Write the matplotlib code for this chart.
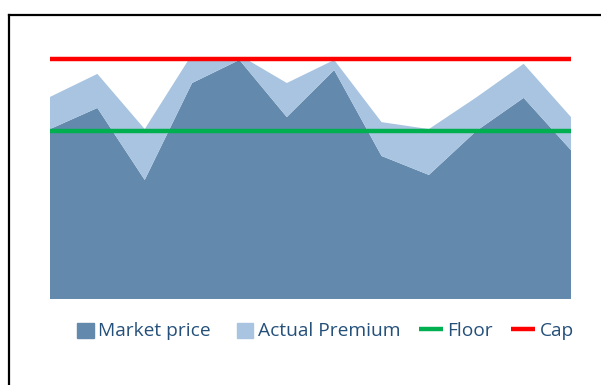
import matplotlib
matplotlib.use('Agg')
import matplotlib.pyplot as plt
from matplotlib.lines import Line2D
from matplotlib.patches import Patch, Rectangle
from matplotlib.legend_handler import HandlerPatch

# monthly series (12 points)
months = list(range(12))
market_price = [70.8, 79.6, 49.6, 90.0, 99.6, 75.8, 95.4, 59.6, 51.7, 70.0, 83.8, 62.0]
actual_premium = [13.4, 14.2, 21.2, 12.0, 2.0, 14.2, 4.2, 14.1, 19.1, 14.0, 14.2, 13.8]
floor_level = 70
cap_level = 100

c_market = '#6389ad'
c_premium = '#a9c4e0'
c_floor = '#00b050'
c_cap = '#ff0000'
c_text = '#25507a'

plt.rcParams['font.family'] = ['Open Sans', 'DejaVu Sans']

fig = plt.figure(figsize=(6.01, 3.85), dpi=100)
ax = fig.add_axes([50 / 601, 1 - 299 / 385, 521 / 601, 240 / 385])

ax.stackplot(months, market_price, actual_premium,
             colors=[c_market, c_premium], linewidth=0)
ax.plot(months, [floor_level] * len(months), color=c_floor, lw=3.2,
        solid_capstyle='butt')
ax.plot(months, [cap_level] * len(months), color=c_cap, lw=3.2,
        solid_capstyle='butt', clip_on=False)

ax.set_xlim(0, 11)
ax.set_ylim(0, 100)
ax.axis('off')

# outer frame, only top and left edges fall inside the image
fx, fy = 9 / 601, 1 - 15 / 385
fig.add_artist(Line2D([fx, 1.0], [fy, fy], color='black', lw=1.6,
                      transform=fig.transFigure))
fig.add_artist(Line2D([fx, fx], [0.0, fy], color='black', lw=1.6,
                      transform=fig.transFigure))


def square_patch(legend, orig_handle, xdescent, ydescent, width, height, fontsize):
    w = 0.85 * fontsize
    h = 0.75 * fontsize
    return Rectangle((-xdescent + width - w, -ydescent + (height - h) / 2 - 1), w, h)


handles = [Patch(color=c_market), Patch(color=c_premium),
           Line2D([], [], color=c_floor, lw=3.2, solid_capstyle='butt'),
           Line2D([], [], color=c_cap, lw=3.2, solid_capstyle='butt')]
labels = ['Market price', 'Actual Premium', 'Floor', 'Cap']
fig.legend(handles, labels, loc='center', bbox_to_anchor=(322 / 601, 1 - 331 / 385),
           ncol=4, frameon=False, fontsize=13.8, labelcolor=c_text,
           handlelength=1.25, handletextpad=0.25, columnspacing=0.95,
           handler_map={Patch: HandlerPatch(patch_func=square_patch)})

fig.savefig('out.png', dpi=100)
